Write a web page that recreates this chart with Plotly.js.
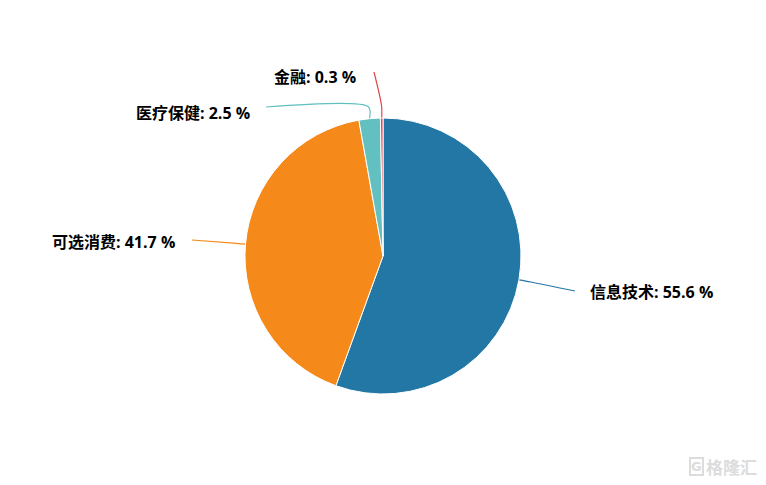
<!DOCTYPE html>
<html>
<head>
<meta charset="utf-8">
<script src="https://cdn.plot.ly/plotly-3.0.1.min.js"></script>
<style>
  html, body { margin: 0; padding: 0; background: #fff; }
  #chart { width: 766px; height: 485px; }
</style>
</head>
<body>
<div id="chart"></div>
<script>
// ---------------------------------------------------------------------------
// Data
// ---------------------------------------------------------------------------
const sectors = ['信息技术', '可选消费', '医疗保健', '金融'];
const shares = [55.6, 41.7, 2.5, 0.3];
const sliceColors = ['#2277a4', '#f5891a', '#62c0c1', '#e0474c'];

// ---------------------------------------------------------------------------
// Layout helpers (pixel frame of the 766x485 page)
// ---------------------------------------------------------------------------
const W = 766, H = 485;
const CX = 383, CY = 256, R = 138;

// label anchor + connector end for each slice (pixel space)
const labelPlace = [
    { x: 588, y: 292, anchor: 'left',  endX: 575, endY: 291 },
    { x: 177, y: 242, anchor: 'right', endX: 192, endY: 240 },
    { x: 252, y: 113, anchor: 'right', endX: 266, endY: 107 },
    { x: 358, y: 77,  anchor: 'right', endX: 374, endY: 72 }
];

const total = shares.reduce((a, b) => a + b, 0);

function sliceEdge(i, extra) {
    const before = shares.slice(0, i).reduce((a, b) => a + b, 0);
    const theta = 2 * Math.PI * (before + shares[i] / 2) / total;
    return {
        x: CX + (R + extra) * Math.sin(theta),
        y: CY - (R + extra) * Math.cos(theta)
    };
}

const traces = [{
    type: 'pie',
    labels: sectors,
    values: shares,
    sort: false,
    direction: 'clockwise',
    rotation: 0,
    textinfo: 'none',
    hoverinfo: 'label+percent',
    showlegend: false,
    marker: { colors: sliceColors, line: { color: '#ffffff', width: 1 } },
    domain: {
        x: [(CX - R) / W, (CX + R) / W],
        y: [(H - CY - R) / H, (H - CY + R) / H]
    }
}];

// Connector lines
sectors.forEach((name, i) => {
    const p0 = sliceEdge(i, 0);
    const p1 = sliceEdge(i, 12);
    const lp = labelPlace[i];
    traces.push({
        type: 'scatter',
        mode: 'lines',
        x: [p0.x, p1.x, lp.endX],
        y: [p0.y, p1.y, lp.endY],
        line: { color: sliceColors[i], width: 1.2, shape: 'spline', smoothing: 0.8 },
        hoverinfo: 'skip',
        showlegend: false
    });
});

const labelFont = { family: 'Open Sans, Noto Sans CJK SC, sans-serif', size: 16, color: '#000000' };

const annotations = sectors.map((name, i) => ({
    xref: 'x',
    yref: 'y',
    x: labelPlace[i].x,
    y: labelPlace[i].y,
    xanchor: labelPlace[i].anchor,
    yanchor: 'middle',
    showarrow: false,
    text: '<b>' + name + ': ' + shares[i].toFixed(1) + ' %</b>',
    font: labelFont
}));

// watermark
annotations.push({
    xref: 'x',
    yref: 'y',
    x: 759,
    y: 466,
    xanchor: 'right',
    yanchor: 'middle',
    showarrow: false,
    text: '<b>格隆汇</b>',
    font: { family: 'Noto Sans CJK SC, sans-serif', size: 17, color: '#dcdcdc' }
});
annotations.push({
    xref: 'x',
    yref: 'y',
    x: 704,
    y: 466,
    xanchor: 'right',
    yanchor: 'middle',
    showarrow: false,
    text: '<b>G</b>',
    font: { family: 'DejaVu Sans, sans-serif', size: 13, color: '#dcdcdc' },
    bordercolor: '#dcdcdc',
    borderwidth: 2,
    borderpad: 0
});

Plotly.newPlot('chart', traces, {
    width: W,
    height: H,
    paper_bgcolor: '#ffffff',
    plot_bgcolor: 'rgba(0,0,0,0)',
    margin: { l: 0, r: 0, t: 0, b: 0 },
    showlegend: false,
    xaxis: { range: [0, W], visible: false, fixedrange: true, domain: [0, 1] },
    yaxis: { range: [H, 0], visible: false, fixedrange: true, domain: [0, 1] },
    annotations: annotations
}, { displayModeBar: false, staticPlot: true });
</script>
</body>
</html>
